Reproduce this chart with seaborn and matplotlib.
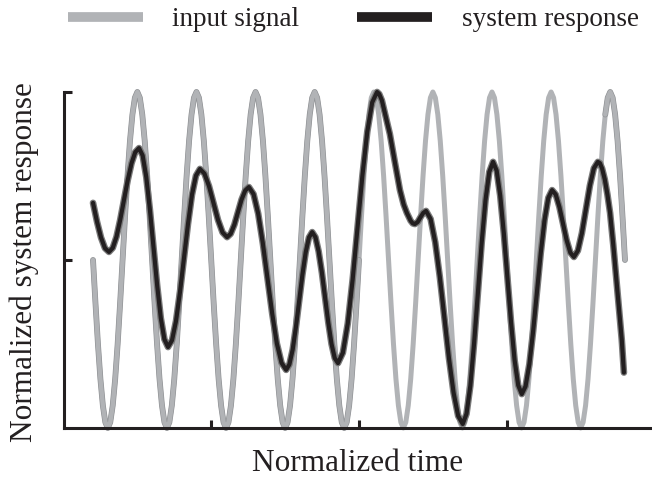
import numpy as np
import pandas as pd
import matplotlib
matplotlib.use('Agg')
import matplotlib.pyplot as plt
import matplotlib.patheffects as pe
from matplotlib.lines import Line2D
import seaborn as sns

# input signal, read at 24 samples per cycle over 9 cycles
input_signal = [
    0.500, 0.371, 0.250, 0.146, 0.067, 0.017, 0.000, 0.017, 0.067, 0.146, 0.250, 0.371,
    0.500, 0.629, 0.750, 0.854, 0.933, 0.983, 1.000, 0.983, 0.933, 0.854, 0.750, 0.629,
    0.500, 0.371, 0.250, 0.146, 0.067, 0.017, 0.000, 0.017, 0.067, 0.146, 0.250, 0.371,
    0.500, 0.629, 0.750, 0.854, 0.933, 0.983, 1.000, 0.983, 0.933, 0.854, 0.750, 0.629,
    0.500, 0.371, 0.250, 0.146, 0.067, 0.017, 0.000, 0.017, 0.067, 0.146, 0.250, 0.371,
    0.500, 0.629, 0.750, 0.854, 0.933, 0.983, 1.000, 0.983, 0.933, 0.854, 0.750, 0.629,
    0.500, 0.371, 0.250, 0.146, 0.067, 0.017, 0.000, 0.017, 0.067, 0.146, 0.250, 0.371,
    0.500, 0.629, 0.750, 0.854, 0.933, 0.983, 1.000, 0.983, 0.933, 0.854, 0.750, 0.629,
    0.500, 0.371, 0.250, 0.146, 0.067, 0.017, 0.000, 0.017, 0.067, 0.146, 0.250, 0.371,
    0.500, 0.629, 0.750, 0.854, 0.933, 0.983, 1.000, 0.983, 0.933, 0.854, 0.750, 0.629,
    0.500, 0.371, 0.250, 0.146, 0.067, 0.017, 0.000, 0.017, 0.067, 0.146, 0.250, 0.371,
    0.500, 0.629, 0.750, 0.854, 0.933, 0.983, 1.000, 0.983, 0.933, 0.854, 0.750, 0.629,
    0.500, 0.371, 0.250, 0.146, 0.067, 0.017, 0.000, 0.017, 0.067, 0.146, 0.250, 0.371,
    0.500, 0.629, 0.750, 0.854, 0.933, 0.983, 1.000, 0.983, 0.933, 0.854, 0.750, 0.629,
    0.500, 0.371, 0.250, 0.146, 0.067, 0.017, 0.000, 0.017, 0.067, 0.146, 0.250, 0.371,
    0.500, 0.629, 0.750, 0.854, 0.933, 0.983, 1.000, 0.983, 0.933, 0.854, 0.750, 0.629,
    0.500, 0.371, 0.250, 0.146, 0.067, 0.017, 0.000, 0.017, 0.067, 0.146, 0.250, 0.371,
    0.500, 0.629, 0.750, 0.854, 0.933, 0.983, 1.000, 0.983, 0.933, 0.854, 0.750, 0.629,
    0.500,
]

# system response (time, value)
response_t = [
    0.000, 0.0075, 0.015, 0.0225, 0.030,
    0.0371, 0.0441, 0.0512, 0.0583, 0.0653, 0.0724, 0.0794, 0.0865,
    0.0933, 0.1001, 0.1069, 0.1138, 0.1206, 0.1274, 0.1342, 0.141,
    0.1485, 0.156, 0.1635, 0.171, 0.1785, 0.186, 0.1935, 0.201,
    0.2095, 0.218, 0.2265, 0.235, 0.2435, 0.252,
    0.2588, 0.2657, 0.2725, 0.2793, 0.2862, 0.293,
    0.3018, 0.3105, 0.3193, 0.328, 0.3368, 0.3455, 0.3543, 0.363,
    0.3691, 0.3753, 0.3814, 0.3875, 0.3936, 0.3998, 0.4059, 0.412,
    0.4181, 0.4241, 0.4302, 0.4363, 0.4423, 0.4484, 0.4544, 0.4605,
    0.4697, 0.4789, 0.4881, 0.4973, 0.5064, 0.5156, 0.5248, 0.534,
    0.538, 0.543, 0.549, 0.558, 0.567, 0.577, 0.584, 0.590, 0.597, 0.601, 0.605,
    0.6103, 0.6155, 0.6208, 0.626,
    0.6346, 0.6433, 0.6519, 0.6605, 0.6691, 0.6778, 0.6864, 0.695,
    0.7021, 0.7093, 0.7164, 0.7235, 0.7306, 0.7378, 0.7449, 0.752,
    0.7588, 0.7655, 0.7723, 0.779, 0.7858, 0.7925, 0.7993, 0.806,
    0.8131, 0.8203, 0.8274, 0.8345, 0.8416, 0.8488, 0.8559, 0.863,
    0.8698, 0.8767, 0.8835, 0.8903, 0.8972, 0.904,
    0.9115, 0.919, 0.9265, 0.934, 0.9415, 0.949,
    0.953, 0.957, 0.962, 0.967, 0.972, 0.978, 0.984, 0.989, 0.994, 0.998,
]
response_v = [
    0.670, 0.614, 0.567, 0.535, 0.524,
    0.536, 0.569, 0.620, 0.679, 0.738, 0.788, 0.821, 0.833,
    0.811, 0.747, 0.650, 0.537, 0.424, 0.327, 0.264, 0.241,
    0.261, 0.318, 0.405, 0.506, 0.607, 0.694, 0.751, 0.771,
    0.757, 0.720, 0.670, 0.619, 0.582, 0.568,
    0.578, 0.605, 0.643, 0.680, 0.707, 0.717,
    0.696, 0.638, 0.549, 0.445, 0.341, 0.252, 0.194, 0.173,
    0.189, 0.233, 0.300, 0.378, 0.456, 0.523, 0.567, 0.583,
    0.568, 0.526, 0.463, 0.388, 0.314, 0.250, 0.208, 0.193,
    0.224, 0.311, 0.442, 0.597, 0.751, 0.882, 0.969, 1.000,
    0.994, 0.975, 0.935, 0.875, 0.795, 0.708, 0.665, 0.640, 0.617, 0.609, 0.607,
    0.613, 0.627, 0.640, 0.646,
    0.622, 0.553, 0.450, 0.329, 0.208, 0.105, 0.036, 0.012,
    0.042, 0.126, 0.253, 0.402, 0.551, 0.678, 0.762, 0.792,
    0.766, 0.691, 0.579, 0.447, 0.315, 0.202, 0.127, 0.101,
    0.124, 0.190, 0.289, 0.405, 0.520, 0.619, 0.685, 0.708,
    0.695, 0.658, 0.609, 0.559, 0.522, 0.509,
    0.528, 0.580, 0.651, 0.721, 0.773, 0.792,
    0.788, 0.772, 0.740, 0.695, 0.640, 0.545, 0.440, 0.350, 0.262, 0.165,
]

x_ticks = [0.222, 0.5, 0.778]
y_ticks = [0.5, 1.0]
labels = ['input signal', 'system response']

GRAY = '#b1b3b6'
BLACK = '#231f20'

sns.set_style('ticks')
plt.rcParams['font.family'] = ['Liberation Serif', 'DejaVu Serif']
plt.rcParams['lines.solid_capstyle'] = 'butt'

inp = pd.DataFrame({'t': np.linspace(0, 1, len(input_signal)), 'v': input_signal})
resp = pd.DataFrame({'t': response_t, 'v': response_v})

fig = plt.figure(figsize=(6.52, 4.94), dpi=100)
ax = fig.add_axes([0.0982, 0.1336, 0.9018, 0.6802])

# input signal (light gray); early and last cycles have a faint darker edge
sns.lineplot(data=inp, x='t', y='v', color=GRAY, lw=3.6, estimator=None,
             legend=False, ax=ax, clip_on=False, solid_capstyle='round',
             solid_joinstyle='round', zorder=2)
edge = [pe.Stroke(linewidth=4.2, foreground='#939598'), pe.Normal()]
for part in (inp[inp.t <= 0.5], inp[inp.t >= 0.96]):
    sns.lineplot(data=part, x='t', y='v', color=GRAY, lw=3.2, estimator=None,
                 legend=False, ax=ax, clip_on=False, solid_capstyle='round',
                 solid_joinstyle='round', path_effects=edge, zorder=2.1)

# system response (black with gray rim)
sns.lineplot(data=resp, x='t', y='v', color=BLACK, lw=3.0, estimator=None,
             legend=False, ax=ax, clip_on=False, solid_capstyle='round',
             solid_joinstyle='round',
             path_effects=[pe.Stroke(linewidth=4.8, foreground='#7a7a7a'), pe.Normal()],
             zorder=3)

ax.set_xlim(-0.0545, 1.0508)
ax.set_ylim(0, 1)
sns.despine(ax=ax)
for side in ('left', 'bottom'):
    ax.spines[side].set_linewidth(2.2)
    ax.spines[side].set_color(BLACK)
ax.set_xticks(x_ticks)
ax.set_yticks(y_ticks)
ax.tick_params(direction='in', length=5.8, width=2.2, color=BLACK,
               labelleft=False, labelbottom=False)

ax.set_xlabel('Normalized time', fontsize=22.5, color=BLACK)
ax.xaxis.set_label_coords(0.5, -0.063)
ax.set_ylabel('Normalized system response', fontsize=22.5, color=BLACK)
ax.yaxis.set_label_coords(-0.043, 0.494)

handles = [Line2D([], [], color=GRAY, lw=7), Line2D([], [], color=BLACK, lw=7)]
fig.legend(handles, labels, ncol=2, loc='center', bbox_to_anchor=(0.542, 0.960),
           frameon=False, fontsize=19.5, handlelength=2.77, handletextpad=1.1,
           columnspacing=2.14, labelcolor=BLACK)

fig.savefig('out.png', dpi=100)
